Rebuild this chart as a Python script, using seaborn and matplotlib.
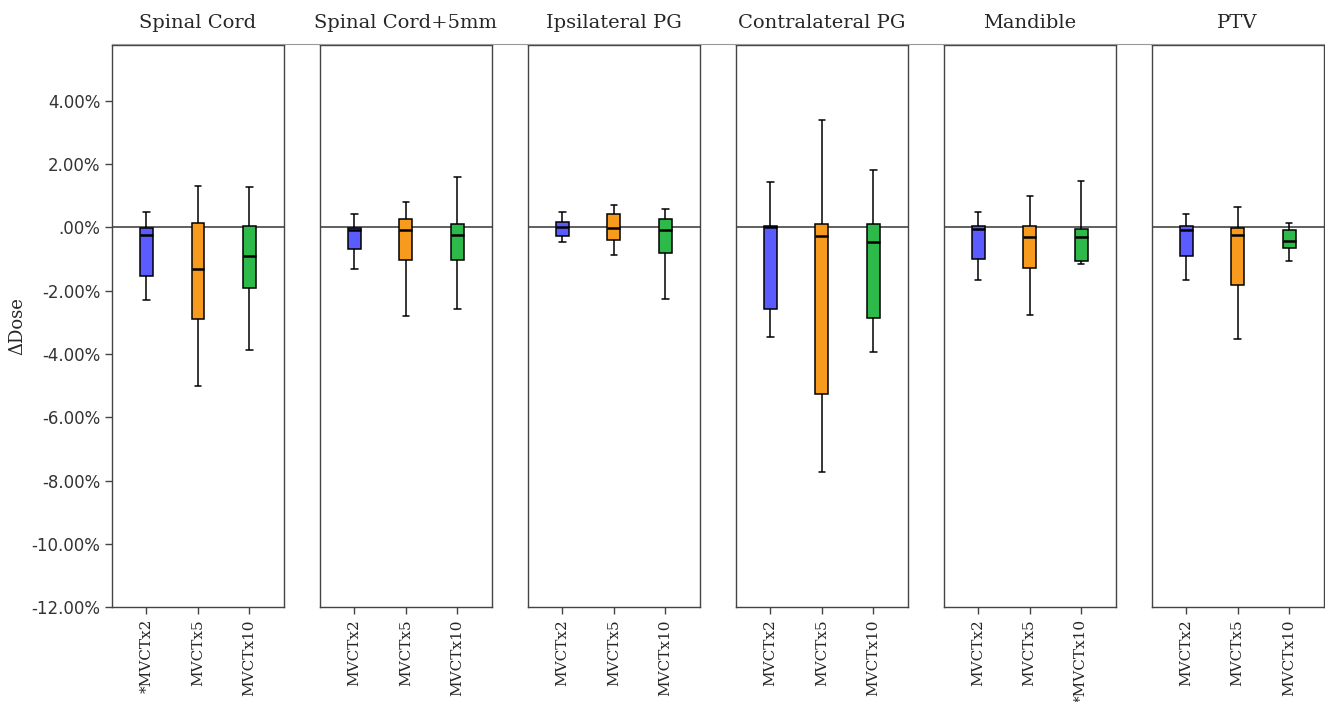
import pandas as pd
import matplotlib.pyplot as plt
from matplotlib.lines import Line2D
import seaborn as sns

structures = ["Spinal Cord", "Spinal Cord+5mm", "Ipsilateral PG",
              "Contralateral PG", "Mandible", "PTV"]
protocols = ["MVCTx2", "MVCTx5", "MVCTx10"]
colors = ["#5b5cff", "#f79b1f", "#2eb94b"]

# five-number summaries (% dose difference), one entry per structure x protocol
whisker_low = [-2.30, -5.02, -3.87,
               -1.32, -2.79, -2.57,
               -0.46, -0.89, -2.26,
               -3.46, -7.74, -3.94,
               -1.66, -2.78, -1.16,
               -1.66, -3.52, -1.06]
q1 = [-1.54, -2.89, -1.92,
      -0.67, -1.03, -1.03,
      -0.27, -0.40, -0.80,
      -2.59, -5.26, -2.88,
      -1.00, -1.27, -1.07,
      -0.90, -1.82, -0.65]
median = [-0.24, -1.31, -0.90,
          -0.10, -0.10, -0.24,
          0.00, -0.03, -0.08,
          0.01, -0.29, -0.46,
          -0.04, -0.30, -0.32,
          -0.09, -0.24, -0.42]
q3 = [-0.03, 0.15, 0.04,
      -0.01, 0.25, 0.11,
      0.18, 0.42, 0.27,
      0.03, 0.11, 0.10,
      0.03, 0.04, -0.04,
      0.05, -0.01, -0.09]
whisker_high = [0.48, 1.29, 1.27,
                0.42, 0.81, 1.60,
                0.47, 0.69, 0.58,
                1.44, 3.39, 1.81,
                0.47, 0.99, 1.45,
                0.42, 0.65, 0.15]

ytick_values = [-12, -10, -8, -6, -4, -2, 0, 2, 4]
ytick_labels = ["-12.00%", "-10.00%", "-8.00%", "-6.00%", "-4.00%",
                "-2.00%", ".00%", "2.00%", "4.00%"]

# extreme outliers ("*") noted below these tick labels
starred = {("Spinal Cord", "MVCTx2"), ("Mandible", "MVCTx10")}

# long table: five values per box give exactly the drawn quartiles/whiskers
rows = []
i = 0
for s in structures:
    for p in protocols:
        for v in (whisker_low[i], q1[i], median[i], q3[i], whisker_high[i]):
            rows.append({"structure": s, "protocol": p, "dose": v})
        i += 1
df = pd.DataFrame(rows)

sns.set_style("white")
fig, axes = plt.subplots(1, 6, figsize=(13.25, 7.02), sharey=True)
fig.subplots_adjust(left=0.0845, right=0.999, top=0.936, bottom=0.135, wspace=0.209)

for k, (ax, s) in enumerate(zip(axes, structures)):
    sub = df[df["structure"] == s]
    sns.boxplot(data=sub, x="protocol", y="dose", hue="protocol", order=protocols,
                hue_order=protocols, palette=colors, saturation=1, width=0.25,
                whis=(0, 100), linecolor="black", linewidth=1.1,
                medianprops=dict(color="black", linewidth=1.8),
                legend=False, ax=ax)
    ax.axhline(0, color="#444444", lw=1.2, zorder=1)
    ax.set_xlim(-0.67, 2.67)
    ax.set_ylim(-12, 5.76)
    ax.set_title(s, family="DejaVu Serif", fontsize=14, pad=12)
    ax.set_xlabel("")
    labels = [("*" if (s, p) in starred else "") + p for p in protocols]
    ax.set_xticks(range(3))
    ax.set_xticklabels(labels, rotation=90, family="DejaVu Serif", fontsize=11)
    for sp in ax.spines.values():
        sp.set_visible(True)
        sp.set_color("#444444")
        sp.set_linewidth(1)
    ax.tick_params(axis="x", length=5, width=1, color="#444444", bottom=True)
    if k == 0:
        ax.set_yticks(ytick_values)
        ax.set_yticklabels(ytick_labels, fontsize=12, color="#333333")
        ax.tick_params(axis="y", length=5, width=1, color="#444444", left=True)
        ax.set_ylabel("\u0394Dose", family="DejaVu Serif", fontsize=13)
        ax.yaxis.set_label_coords(-0.5, 0.5)
    else:
        ax.tick_params(axis="y", left=False)
        ax.set_ylabel("")

# thin frame line running along the top of all panels
fig.add_artist(Line2D([0.0845, 0.999], [0.937, 0.937], transform=fig.transFigure,
                      color="#999999", lw=0.8))

fig.savefig("out.png", dpi=100)
